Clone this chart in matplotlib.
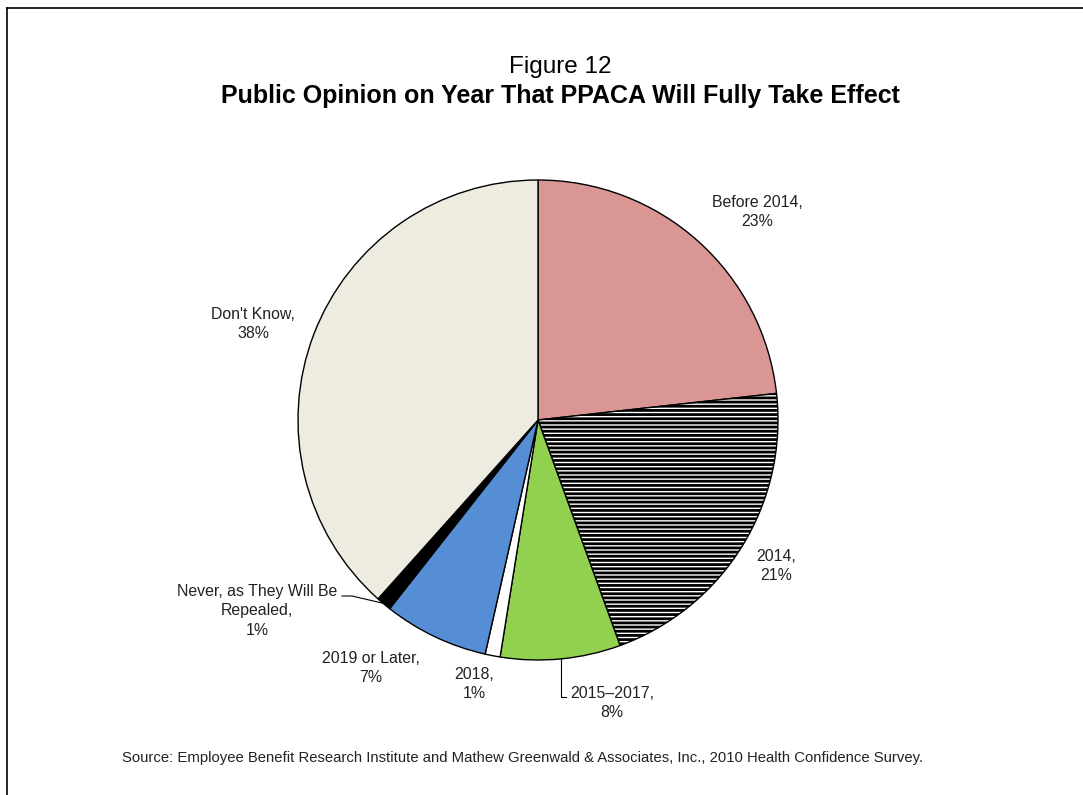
import matplotlib
matplotlib.use("Agg")
import matplotlib.pyplot as plt

plt.rcParams["font.family"] = ["Liberation Sans", "DejaVu Sans"]
plt.rcParams["hatch.linewidth"] = 2.0

# survey answers, clockwise from 12 o'clock
labels = ["Before 2014", "2014", "2015\u20132017", "2018", "2019 or Later",
          "Never, as They Will Be\nRepealed", "Don't Know"]
shares = [23, 21, 8, 1, 7, 1, 38]
colors = ["#D99694", "white", "#92D050", "white", "#558ED5", "black", "#EEECE1"]
hatches = [None, "----", None, None, None, None, None]

# label anchor points (x, y from top, in pixels)
label_xy = [(757, 212), (776, 566), (612, 703), (474, 684), (371, 668),
            (257, 611), (253, 324)]

W, H = 1083, 795
fig = plt.figure(figsize=(W / 100, H / 100), dpi=100)
ax = fig.add_axes([0, 0, 1, 1])

wedges, _ = ax.pie(shares, colors=colors, startangle=90, counterclock=False,
                   center=(538, H - 420), radius=240, frame=True,
                   wedgeprops=dict(edgecolor="black", linewidth=1.0))
for w, h in zip(wedges, hatches):
    if h:
        w.set_hatch(h)
ax.set_xlim(0, W)
ax.set_ylim(0, H)
ax.axis("off")

for lab, val, (x, y) in zip(labels, shares, label_xy):
    ax.text(x, H - y, f"{lab},\n{val}%", ha="center", va="center",
            fontsize=11.4, color="#222222", linespacing=1.4)

# leader lines
ax.plot([342, 352, 382], [H - 596, H - 596, H - 603], color="black", lw=0.8)
ax.plot([561, 561, 566], [H - 658, H - 697, H - 697], color="black", lw=0.8)

# titles and source
fig.text(560 / W, 1 - 67 / H, "Figure 12", ha="center", va="center", fontsize=17.5)
fig.text(560 / W, 1 - 96 / H, "Public Opinion on Year That PPACA Will Fully Take Effect",
         ha="center", va="center", fontsize=18, fontweight="bold")
fig.text(122 / W, 1 - 758 / H,
         "Source: Employee Benefit Research Institute and Mathew Greenwald & "
         "Associates, Inc., 2010 Health Confidence Survey.",
         ha="left", va="center", fontsize=10.75, color="#222222")

# frame lines along top and left edge
ax.plot([7, W], [H - 8, H - 8], color="black", lw=1.2)
ax.plot([7, 7], [H - 8, 0], color="black", lw=1.2)

fig.savefig("out.png", dpi=100)
